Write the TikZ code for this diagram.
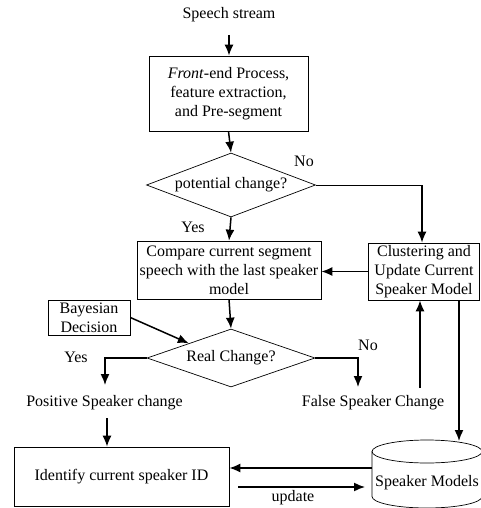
\documentclass[tikz,border=0pt]{standalone}
\usepackage{fontspec}
\setmainfont{Liberation Serif}
\usetikzlibrary{shapes.geometric, arrows.meta}

\begin{document}
\begin{tikzpicture}[x=1pt, y=-1pt,
	font=\fontsize{16}{19}\selectfont,
	blockbox/.style={draw, rectangle, align=center, inner sep=1pt, line width=0.7pt},
	decision/.style={draw, diamond, inner sep=0pt, line width=0.7pt},
	flow/.style={-{Latex[length=11pt, width=9pt]}, line width=1.5pt},
	thinline/.style={line width=0.7pt}]
		
		\useasboundingbox (0,0) rectangle (481,508);
		
		%Nodes
		\node (stream) at (229,15) {Speech stream};
		
		\node (front) at (228.5,93.5) [blockbox, minimum width=159, minimum height=75]
		{\textit{Front}-end Process,\\feature extraction,\\and Pre-segment};
		
		\node (potential) at (231,185) [decision, aspect=2.64, minimum width=169, minimum height=64]
		{potential change?};
		
		\node (compare) at (229,270) [blockbox, minimum width=184, minimum height=58]
		{Compare current segment\\speech with the last speaker\\model};
		
		\node (cluster) at (424,271.5) [blockbox, minimum width=111, minimum height=57]
		{Clustering and\\Update Current\\Speaker Model};
		
		\node (bayes) at (89,317.5) [blockbox, minimum width=82, minimum height=35]
		{Bayesian\\Decision};
		
		\node (real) at (231,358) [decision, aspect=2.9, minimum width=168, minimum height=58]
		{Real Change?};
		
		\node (positive) at (104.5,403) {Positive Speaker change};
		
		\node (false) at (373,403) {False Speaker Change};
		
		\node (identify) at (121.5,476.5) [blockbox, minimum width=215, minimum height=59]
		{Identify current speaker ID};
		
		%Speaker models store
		\node (models) at (427,483) {Speaker Models};
		\draw[thinline] (427,451.5) ellipse [x radius=55, y radius=11.5];
		\draw[thinline] (372,451.5) -- (372,496.5) 
		arc [start angle=180, end angle=0, x radius=55, y radius=11.5] -- (482,451.5);
		
		%Labels
		\node (noPotential) at (304,161) {No};
		\node (yesPotential) at (193,227) {Yes};
		\node (yesReal) at (76,357) {Yes};
		\node (noReal) at (368,345) {No};
		\node (update) at (293,498) {update};
		
		%Corners
		\coordinate (cornerNo) at (422,185);
		\coordinate (cornerYes) at (105,358);
		\coordinate (cornerFalse) at (358,358);
		\coordinate (modelsTop) at (459,441);
		\coordinate (modelsLeft) at (372,468);
		\coordinate (modelsIn) at (365,487);
		
		%Links
		\draw[flow] (229,35) coordinate (streamEnd) -- (front.north -| streamEnd);
		
		\draw[flow] (front.south) -- (potential.north);
		
		\draw[thinline] (potential.east) -- (cornerNo);
		\draw[flow] (cornerNo) -- (cluster.north -| cornerNo);
		
		\draw[flow] (potential.south) -- (compare.north);
		
		\draw[flow] (cluster.west) -- (compare.east |- cluster.west);
		
		\draw[flow] (compare.south) -- (real.north);
		
		\draw[flow] (bayes.east) -- (real.north west);
		
		\draw[flow] (real.west) -- (cornerYes) -- (105,385);
		
		\draw[flow] (real.east) -- (cornerFalse) -- (358,387);
		
		\draw[flow] (107,418) coordinate (positiveEnd) -- (identify.north -| positiveEnd);
		
		\draw[flow] (420,388) coordinate (falseEnd) -- (cluster.south -| falseEnd);
		
		\draw[flow] (cluster.south -| modelsTop) -- (modelsTop);
		
		\draw[flow] (modelsLeft) -- (identify.east |- modelsLeft);
		
		\draw[flow] (238,487) coordinate (updateStart) -- (modelsIn);
		
\end{tikzpicture}
\end{document}
